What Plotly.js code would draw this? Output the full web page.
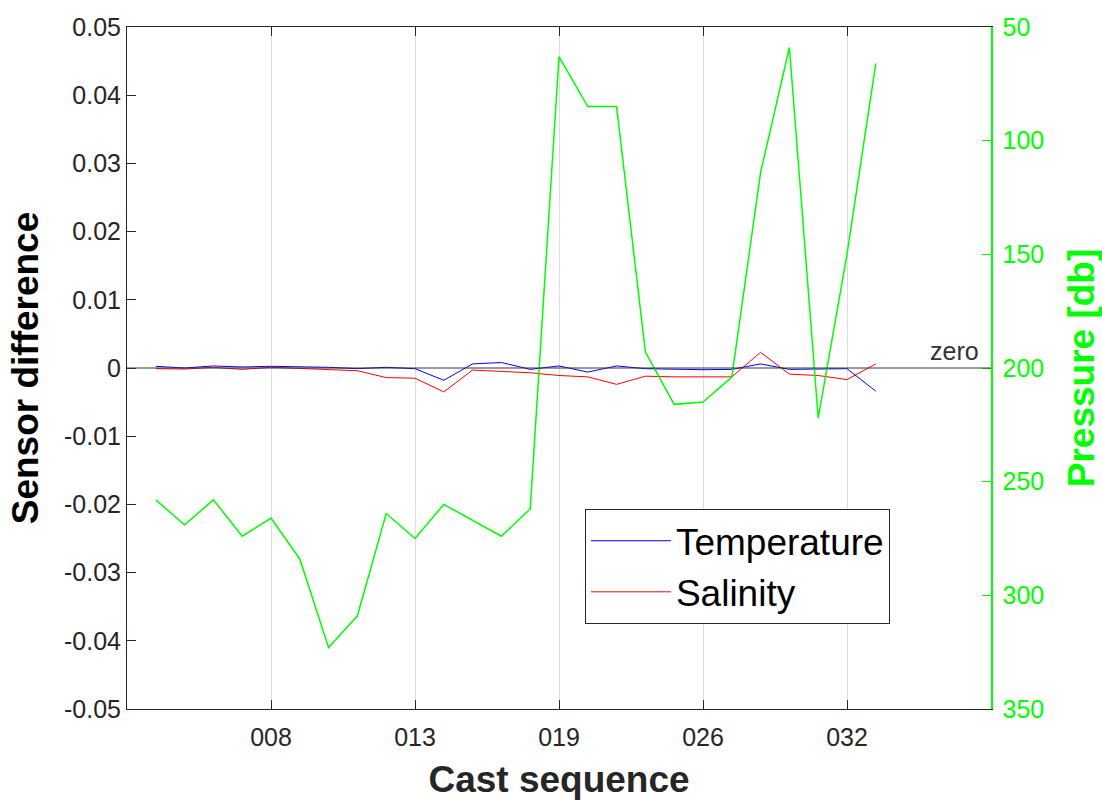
<!DOCTYPE html>
<html>
<head>
<meta charset="utf-8">
<script src="https://cdn.plot.ly/plotly-3.0.1.min.js"></script>
<style>
  html, body { margin: 0; padding: 0; background: #ffffff; }
  #chart { width: 1102px; height: 800px; }
</style>
</head>
<body>
<div id="chart"></div>
<script>
// Cast positions along the sequence axis
const castIndex = [1, 2, 3, 4, 5, 6, 7, 8, 9, 10, 11, 12, 13, 14, 15, 16, 17, 18, 19, 20, 21, 22, 23, 24, 25, 26];

// Labelled casts on the sequence axis
const castTickPos = [5, 10, 15, 20, 25];
const castTickLabels = ['008', '013', '019', '026', '032'];

// Sensor differences (primary minus secondary)
const temperatureDiff = [0.00025, 0.0, 0.0003, 0.00015, 0.00025, 0.0002, 0.0001, -0.0001, 0.0001, -0.0001,
  -0.0018, 0.0006, 0.0008, -0.0002, 0.0003, -0.0006, 0.0003, -0.0001, -0.0002, -0.00025,
  -0.0002, 0.0006, -0.0002, -0.0002, -0.0001, -0.0034];
const salinityDiff = [-0.0001, -0.00015, 0.0001, -0.0002, 0.0001, -0.0001, -0.0003, -0.0004, -0.0014, -0.0015,
  -0.0035, -0.0003, -0.0005, -0.0007, -0.0011, -0.0013, -0.0024, -0.0012, -0.0013, -0.0013,
  -0.0013, 0.0023, -0.0009, -0.0011, -0.0017, 0.0006];

// Pressure of each comparison [db]
const pressure = [258, 269, 258, 274, 266, 284, 323, 309, 264, 275,
  260, 267, 274, 262, 63, 85, 85, 193, 216, 215,
  204, 114, 59, 222, 150, 66];

// Left axis ticks
const diffTickVals = [-0.05, -0.04, -0.03, -0.02, -0.01, 0, 0.01, 0.02, 0.03, 0.04, 0.05];
const diffTickLabels = ['-0.05', '-0.04', '-0.03', '-0.02', '-0.01', '0', '0.01', '0.02', '0.03', '0.04', '0.05'];

const FONT = 'Liberation Sans, Arial, Helvetica, sans-serif';
const AXIS = '#262626';
const GREEN = '#00ff00';

const traces = [
  {
    x: castIndex, y: temperatureDiff, name: 'Temperature',
    type: 'scatter', mode: 'lines',
    line: { color: '#0000ff', width: 1 }
  },
  {
    x: castIndex, y: salinityDiff, name: 'Salinity',
    type: 'scatter', mode: 'lines',
    line: { color: '#ff0000', width: 1 }
  },
  {
    x: castIndex, y: pressure, name: 'Pressure',
    type: 'scatter', mode: 'lines', yaxis: 'y2', showlegend: false,
    line: { color: GREEN, width: 1.5 }
  }
];

const layout = {
  width: 1102, height: 800,
  margin: { l: 127, r: 111, t: 27, b: 91 },
  paper_bgcolor: '#ffffff', plot_bgcolor: '#ffffff',
  font: { family: FONT, color: AXIS, size: 25 },
  showlegend: true,
  legend: {
    x: 0.530, y: 0.293, xanchor: 'left', yanchor: 'top',
    bgcolor: '#ffffff', bordercolor: AXIS, borderwidth: 1,
    font: { family: FONT, size: 37, color: '#000000' },
    itemwidth: 80,
    tracegroupgap: 0
  },
  xaxis: {
    range: [0, 30],
    tickmode: 'array', tickvals: castTickPos, ticktext: castTickLabels,
    ticks: 'inside', ticklen: 9, tickcolor: AXIS, tickwidth: 1,
    ticklabelstandoff: 6,
    showline: true, linecolor: AXIS, linewidth: 1, mirror: 'ticks',
    showgrid: true, gridcolor: '#dddddd', gridwidth: 1,
    zeroline: false,
    tickfont: { family: FONT, size: 25, color: AXIS },
    title: { text: 'Cast sequence', font: { family: FONT, size: 37, color: AXIS, weight: 'bold' }, standoff: 20 }
  },
  yaxis: {
    range: [-0.05, 0.05],
    tickmode: 'array', tickvals: diffTickVals, ticktext: diffTickLabels,
    ticks: 'inside', ticklen: 9, tickcolor: AXIS, tickwidth: 1,
    showline: true, linecolor: AXIS, linewidth: 1,
    showgrid: false, zeroline: false,
    tickfont: { family: FONT, size: 25, color: AXIS },
    title: { text: 'Sensor difference', font: { family: FONT, size: 37, color: '#000000', weight: 'bold' }, standoff: 14 }
  },
  yaxis2: {
    overlaying: 'y', side: 'right',
    range: [350, 50], dtick: 50, tick0: 50,
    ticks: 'inside', ticklen: 9, tickcolor: GREEN, tickwidth: 1,
    ticklabelstandoff: 5,
    showline: true, linecolor: GREEN, linewidth: 1.5,
    showgrid: false, zeroline: false,
    tickfont: { family: FONT, size: 25, color: GREEN },
    title: { text: 'Pressure [db]', font: { family: FONT, size: 37, color: GREEN, weight: 'bold' }, standoff: 26 }
  },
  shapes: [
    {
      type: 'line', xref: 'paper', yref: 'y',
      x0: 0, x1: 1, y0: 0, y1: 0,
      line: { color: '#333333', width: 1 }
    }
  ],
  annotations: [
    {
      text: 'zero', xref: 'paper', yref: 'y',
      x: 0.988, y: 0, xanchor: 'right', yanchor: 'bottom', yshift: 1,
      showarrow: false,
      font: { family: FONT, size: 25, color: '#333333' }
    }
  ]
};

Plotly.newPlot('chart', traces, layout, { displayModeBar: false, staticPlot: true });
</script>
</body>
</html>
